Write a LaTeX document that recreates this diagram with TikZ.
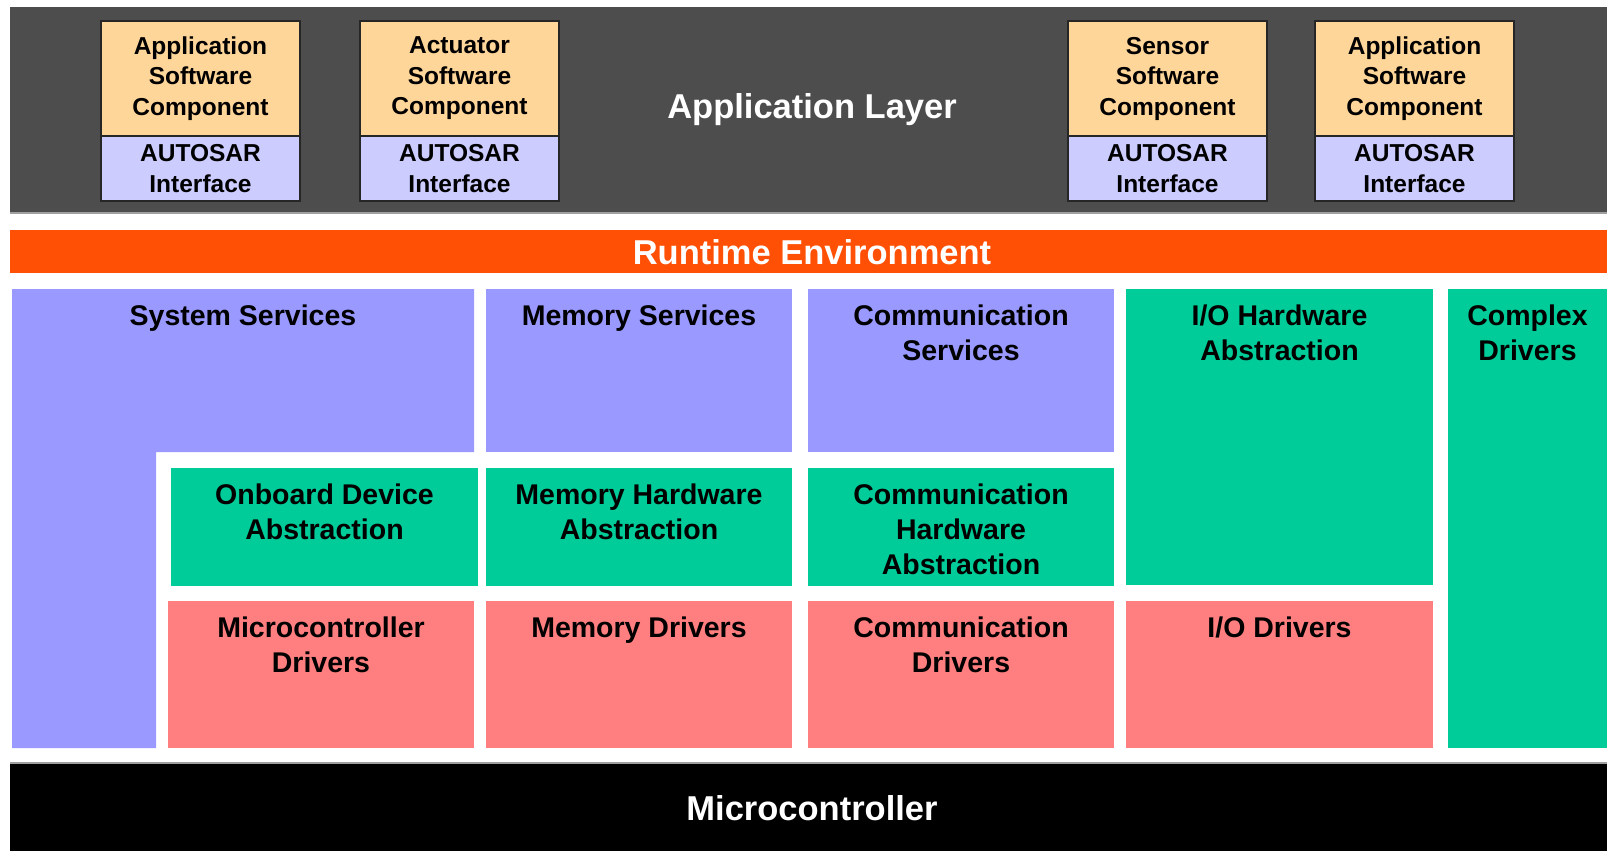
\documentclass[tikz,border=0pt]{standalone}
\usepackage{fontspec}
\setmainfont{Liberation Sans}

\definecolor{bandgray}{HTML}{4D4D4D}
\definecolor{rteorange}{HTML}{FF5005}
\definecolor{svcblue}{HTML}{9999FF}
\definecolor{hwgreen}{HTML}{00CC99}
\definecolor{drvred}{HTML}{FF7F80}
\definecolor{swcpeach}{HTML}{FFD699}
\definecolor{iflilac}{HTML}{CCCCFF}
\definecolor{edgegray}{HTML}{A0A0A0}

\tikzset{
  block/.style={anchor=north west, inner sep=0pt, outer sep=0pt, draw=none},
  swcbox/.style={block, fill=swcpeach, draw=black!85, line width=2pt, minimum width=199pt, minimum height=115pt},
  ifbox/.style={block, fill=iflilac, draw=black!85, line width=2pt, minimum width=199pt, minimum height=65pt},
  swctext/.style={inner sep=0pt, align=center, font=\fontsize{24.5}{30.5}\selectfont\bfseries},
  layertext/.style={inner sep=0pt, anchor=north, align=center, font=\fontsize{28.5}{35}\selectfont\bfseries},
  bandtext/.style={inner sep=0pt, text=white, font=\fontsize{34.5}{40}\selectfont\bfseries},
}

\begin{document}
\begin{tikzpicture}[x=1pt, y=-1pt]
\useasboundingbox (0,0) rectangle (1607,851);
\fill[white] (0,0) rectangle (1607,851);

% ---- application layer band ----
\node[block, fill=bandgray, minimum width=1597pt, minimum height=206pt] (applayer) at (10,7) {};
\draw[edgegray, line width=2pt] (applayer.south west) -- (applayer.south east);
\node[bandtext] (applayerT) at (812,110) {Application Layer};

% software components with their interfaces
\foreach \nm/\x/\txt in {swcA/101/{Application\\Software\\Component},
                         swcB/360/{Actuator\\Software\\Component},
                         swcC/1068/{Sensor\\Software\\Component},
                         swcD/1315/{Application\\Software\\Component}} {
  \node[swcbox] (\nm) at (\x,21) {};
  \node[ifbox] (\nm if) at (\x,136) {};
  \node[swctext] (\nm T) at (\nm.center) {\txt};
  \node[swctext] (\nm ifT) at (\nm if.center) {AUTOSAR\\Interface};
}

% ---- runtime environment ----
\node[block, fill=rteorange, minimum width=1597pt, minimum height=43pt] (rte) at (10,230) {};
\node[bandtext] (rteT) at (812,252) {Runtime Environment};

% ---- basic software ----
% system services (L-shaped)
\fill[svcblue] (12,289) -- (474,289) -- (474,452) -- (156,452) -- (156,748) -- (12,748) -- cycle;
\coordinate (syssvc) at (243,289);
\node[layertext] (syssvcT) at ([yshift=-16pt]syssvc) {System Services};

% services row
\node[block, fill=svcblue, minimum width=306pt, minimum height=163pt] (memsvc) at (486,289) {};
\node[block, fill=svcblue, minimum width=306pt, minimum height=163pt] (comsvc) at (808,289) {};
\node[block, fill=hwgreen, minimum width=307pt, minimum height=296pt] (iohw) at (1126,289) {};
\node[block, fill=hwgreen, minimum width=159pt, minimum height=459pt] (cdd) at (1448,289) {};

% ECU abstraction row
\node[block, fill=hwgreen, minimum width=307pt, minimum height=118pt] (onbhw) at (171,468) {};
\node[block, fill=hwgreen, minimum width=306pt, minimum height=118pt] (memhw) at (486,468) {};
\node[block, fill=hwgreen, minimum width=306pt, minimum height=118pt] (comhw) at (808,468) {};

% driver row
\node[block, fill=drvred, minimum width=306pt, minimum height=147pt] (mcaldrv) at (168,601) {};
\node[block, fill=drvred, minimum width=306pt, minimum height=147pt] (memdrv) at (486,601) {};
\node[block, fill=drvred, minimum width=306pt, minimum height=147pt] (comdrv) at (808,601) {};
\node[block, fill=drvred, minimum width=307pt, minimum height=147pt] (iodrv) at (1126,601) {};

% labels
\node[layertext] (memsvcT) at ([yshift=-16pt]memsvc.north) {Memory Services};
\node[layertext] (comsvcT) at ([yshift=-16pt]comsvc.north) {Communication\\Services};
\node[layertext] (iohwT) at ([yshift=-16pt]iohw.north) {I/O Hardware\\Abstraction};
\node[layertext] (cddT) at ([yshift=-16pt]cdd.north) {Complex\\Drivers};
\node[layertext] (onbhwT) at ([yshift=-16pt]onbhw.north) {Onboard Device\\Abstraction};
\node[layertext] (memhwT) at ([yshift=-16pt]memhw.north) {Memory Hardware\\Abstraction};
\node[layertext] (comhwT) at ([yshift=-16pt]comhw.north) {Communication\\Hardware\\Abstraction};
\node[layertext] (mcaldrvT) at ([yshift=-16pt]mcaldrv.north) {Microcontroller\\Drivers};
\node[layertext] (memdrvT) at ([yshift=-16pt]memdrv.north) {Memory Drivers};
\node[layertext] (comdrvT) at ([yshift=-16pt]comdrv.north) {Communication\\Drivers};
\node[layertext] (iodrvT) at ([yshift=-16pt]iodrv.north) {I/O Drivers};

% ---- microcontroller ----
\node[block, fill=black, minimum width=1597pt, minimum height=88pt] (mcu) at (10,763) {};
\draw[edgegray, line width=1.5pt] (mcu.north west) -- (mcu.north east);
\node[bandtext] (mcuT) at (812,808) {Microcontroller};
\end{tikzpicture}
\end{document}
